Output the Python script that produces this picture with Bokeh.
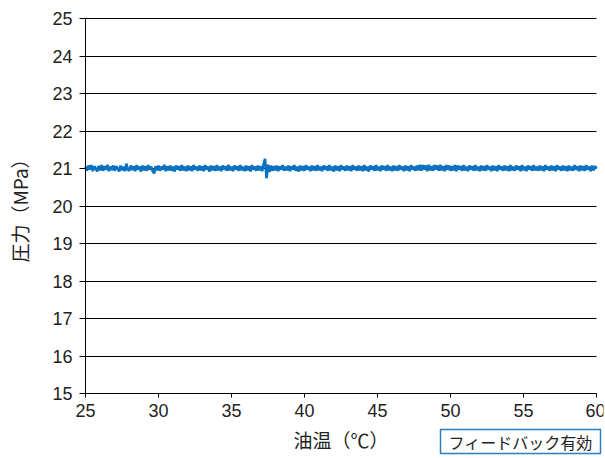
import numpy as np
from bokeh.plotting import figure
from bokeh.models import Label, FixedTicker, Range1d
from bokeh.embed import file_html
from bokeh.resources import INLINE

# Oil temperature sampling: start and step (°C)
temp_start = 25.0
temp_step = 0.1

# Pressure (MPa), one value per 0.1 °C from 25.0 to 60.0
pressure = [
    21.05, 20.94, 21.08, 20.97, 21.09, 20.93, 21.06, 21.00, 20.92, 21.07,
    20.95, 21.09, 20.94, 21.06, 20.97, 21.10, 20.93, 21.05, 20.96, 21.08,
    20.94, 21.06, 21.00, 20.92, 21.08, 20.95, 21.05, 20.93, 21.13, 20.97,
    20.94, 21.08, 20.96, 21.06, 20.93, 21.09, 20.97, 21.05, 20.92, 21.08,
    20.95, 21.06, 20.94, 21.09, 20.97, 21.05, 20.93, 20.87, 21.06, 20.95,
    21.08, 20.94, 21.05, 20.97, 21.10, 20.93, 21.06, 20.95, 21.08, 20.94,
    21.05, 20.92, 21.08, 20.97, 21.06, 20.94, 21.09, 20.95, 21.05, 20.93,
    21.08, 20.95, 21.06, 20.93, 21.09, 20.97, 21.05, 20.94, 21.08, 20.95,
    21.06, 20.93, 21.09, 20.97, 21.05, 20.92, 21.08, 20.95, 21.06, 20.94,
    21.09, 20.95, 21.05, 20.93, 21.08, 20.97, 21.06, 20.94, 21.10, 20.95,
    21.05, 20.93, 21.08, 20.97, 21.06, 20.94, 21.09, 20.95, 21.05, 20.93,
    21.08, 20.95, 21.06, 20.92, 21.09, 20.97, 21.05, 20.94, 21.08, 20.95,
    21.06, 20.93, 21.12, 21.26, 20.74, 21.10, 20.91, 21.08, 20.94, 21.06,
    20.95, 21.08, 20.93, 21.06, 20.97, 21.09, 20.94, 21.05, 20.95, 21.08,
    20.93, 21.06, 20.97, 21.09, 20.94, 21.05, 20.92, 21.08, 20.95, 21.06,
    20.94, 21.09, 20.97, 21.05, 20.93, 21.08, 20.95, 21.06, 20.94, 21.09,
    20.95, 21.05, 20.93, 21.08, 20.97, 21.06, 20.94, 21.09, 20.95, 21.05,
    20.92, 21.08, 20.95, 21.06, 20.93, 21.09, 20.97, 21.05, 20.94, 21.08,
    20.95, 21.06, 20.93, 21.09, 20.97, 21.05, 20.94, 21.08, 20.95, 21.06,
    20.93, 21.09, 20.95, 21.05, 20.92, 21.08, 20.97, 21.06, 20.94, 21.09,
    20.95, 21.05, 20.93, 21.08, 20.97, 21.06, 20.94, 21.09, 20.95, 21.05,
    20.93, 21.08, 20.95, 21.06, 20.94, 21.09, 20.97, 21.05, 20.93, 21.08,
    20.95, 21.06, 20.93, 21.09, 20.97, 21.05, 20.94, 21.08, 20.95, 21.10,
    20.94, 21.09, 20.97, 21.08, 20.93, 21.10, 20.95, 21.06, 20.94, 21.09,
    20.97, 21.08, 20.94, 21.10, 20.95, 21.06, 20.93, 21.09, 20.97, 21.08,
    20.94, 21.06, 20.95, 21.09, 20.93, 21.08, 20.97, 21.06, 20.94, 21.09,
    20.95, 21.05, 20.93, 21.08, 20.97, 21.06, 20.94, 21.09, 20.95, 21.05,
    20.93, 21.08, 20.95, 21.06, 20.94, 21.09, 20.97, 21.05, 20.93, 21.08,
    20.95, 21.06, 20.93, 21.09, 20.97, 21.05, 20.94, 21.08, 20.95, 21.06,
    20.93, 21.09, 20.95, 21.05, 20.94, 21.08, 20.97, 21.06, 20.93, 21.09,
    20.95, 21.05, 20.93, 21.08, 20.97, 21.06, 20.94, 21.09, 20.95, 21.05,
    20.94, 21.08, 20.95, 21.06, 20.93, 21.09, 20.97, 21.05, 20.94, 21.08,
    20.95, 21.06, 20.93, 21.09, 20.97, 21.05, 20.94, 21.08, 20.95, 21.06,
    20.93, 21.08, 20.95, 21.05, 20.94, 21.09, 20.97, 21.06, 20.93, 21.08,
    20.95, 21.06, 20.94, 21.09, 20.97, 21.05, 20.93, 21.08, 20.95, 21.06,
    21.00,
]
temperature = temp_start + temp_step * np.arange(len(pressure))

x_ticks = [25, 30, 35, 40, 45, 50, 55, 60]
y_ticks = [15, 16, 17, 18, 19, 20, 21, 22, 23, 24, 25]
x_title = "油温（℃）"
y_title = "圧力（MPa）"
badge_text = "フィードバック有効"

x_min, x_max = 25, 60
y_min, y_max = 15, 25

# The frame covers the whole canvas so that texts outside the axes are not clipped;
# both axes are pinned to the data limits with fixed_location / bounds.
p = figure(width=605, height=458, output_backend="svg", toolbar_location=None,
           x_range=Range1d(x_min - 5.822, x_max + 0.479),
           y_range=Range1d(y_min - 1.733, y_max + 0.48),
           min_border_left=0, min_border_right=2, min_border_top=0, min_border_bottom=0)
p.outline_line_color = None
p.background_fill_color = "white"
p.border_fill_color = "white"

p.line(temperature, pressure, line_color="#0a72c0", line_width=2.6)

p.xgrid.grid_line_color = None
p.ygrid.grid_line_color = "#000000"
p.ygrid.grid_line_width = 1
p.ygrid.ticker = FixedTicker(ticks=y_ticks)
p.ygrid.cross_bounds = (x_min, x_max)

tick_font = "Liberation Sans"
p.xaxis.ticker = FixedTicker(ticks=x_ticks)
p.yaxis.ticker = FixedTicker(ticks=y_ticks)
p.xaxis.fixed_location = y_min
p.yaxis.fixed_location = x_min
p.xaxis.bounds = (x_min, x_max)
p.yaxis.bounds = (y_min, y_max)
for ax in (p.xaxis[0], p.yaxis[0]):
    ax.axis_line_color = "#000000"
    ax.axis_line_width = 1
    ax.major_tick_line_color = "#000000"
    ax.major_tick_in = 0
    ax.minor_tick_line_color = None
    ax.major_label_text_font = tick_font
    ax.major_label_text_font_size = "18px"
    ax.major_label_text_color = "#222222"
    ax.axis_label_text_font = "Noto Sans CJK JP"
    ax.axis_label_text_font_size = "19px"
    ax.axis_label_text_font_style = "normal"
    ax.axis_label_text_color = "#222222"
p.yaxis.major_tick_out = 6
p.xaxis.major_tick_out = 4
p.yaxis.major_label_standoff = 7
p.xaxis.major_label_standoff = 6
p.xaxis.axis_label = x_title
p.yaxis.axis_label = y_title
p.xaxis.axis_label_standoff = 6
p.yaxis.axis_label_standoff = 16

badge = Label(x=440, y=5, x_units="screen", y_units="screen", text=badge_text,
              text_baseline="bottom", text_align="left",
              text_font="Noto Sans CJK JP", text_font_size="16px", text_color="#222222",
              border_line_color="#2a7ec4", border_line_width=1.5,
              background_fill_color="white",
              padding=dict(left=8, right=8, top=0, bottom=0))
p.add_layout(badge)

open("out.html", "w").write(file_html(p, INLINE))
